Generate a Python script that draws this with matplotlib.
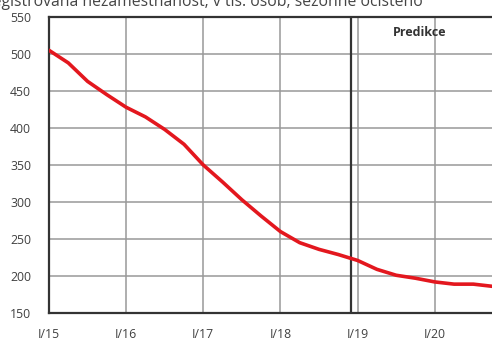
import matplotlib
matplotlib.use("Agg")
import matplotlib.pyplot as plt

# quarterly readings, months since Jan 2015
months = [0, 3, 6, 9, 12, 15, 18, 21, 24, 27, 30, 33, 36, 39, 42, 45, 48, 51, 54, 57, 60, 63, 66, 69]
values = [505, 488, 463, 445, 428, 415, 398, 378, 350, 327, 303, 281,
          260, 245, 236, 229, 221, 209, 201, 197, 192, 189, 189, 186]
tick_pos = [0, 12, 24, 36, 48, 60]
tick_labels = ["I/15", "I/16", "I/17", "I/18", "I/19", "I/20"]
yticks = [150, 200, 250, 300, 350, 400, 450, 500, 550]
prediction_start = 47
title = "Registrovaná nezaměstnanost, v tis. osob, sezónně očištěno"

plt.rcParams['font.family'] = ['Open Sans', 'DejaVu Sans']
fig = plt.figure(figsize=(4.92, 3.41), dpi=100)
ax = fig.add_axes([49/492, 1-313/341, 1-49/492, (313-17)/341])

ax.set_xlim(0, 68.9)
ax.set_ylim(150, 550)
ax.set_xticks(tick_pos)
ax.set_xticklabels(tick_labels)
ax.set_yticks(yticks)
ax.grid(True, color='#999999', linewidth=1.1)
ax.set_axisbelow(True)
ax.tick_params(length=0, labelsize=8.8, colors='#404040')
ax.tick_params(axis='x', pad=11)
ax.tick_params(axis='y', pad=13)
for s in ['left', 'bottom', 'top']:
    ax.spines[s].set_color('#333333')
    ax.spines[s].set_linewidth(1.6)
ax.spines['right'].set_visible(False)

ax.axvline(prediction_start, color='#333333', linewidth=1.6)
ax.plot(months, values, color='#e3171e', linewidth=2.6, solid_capstyle='round',
        solid_joinstyle='round', zorder=5)

ax.text(0.837, 0.946, "Predikce", transform=ax.transAxes, ha='center', va='center',
        fontsize=9, fontweight='bold', color='#333333')

fig.text(-17/492, 1-6/341, title, ha='left', va='baseline', fontsize=11.3, color='#444444')

fig.savefig("out.png", dpi=100)
